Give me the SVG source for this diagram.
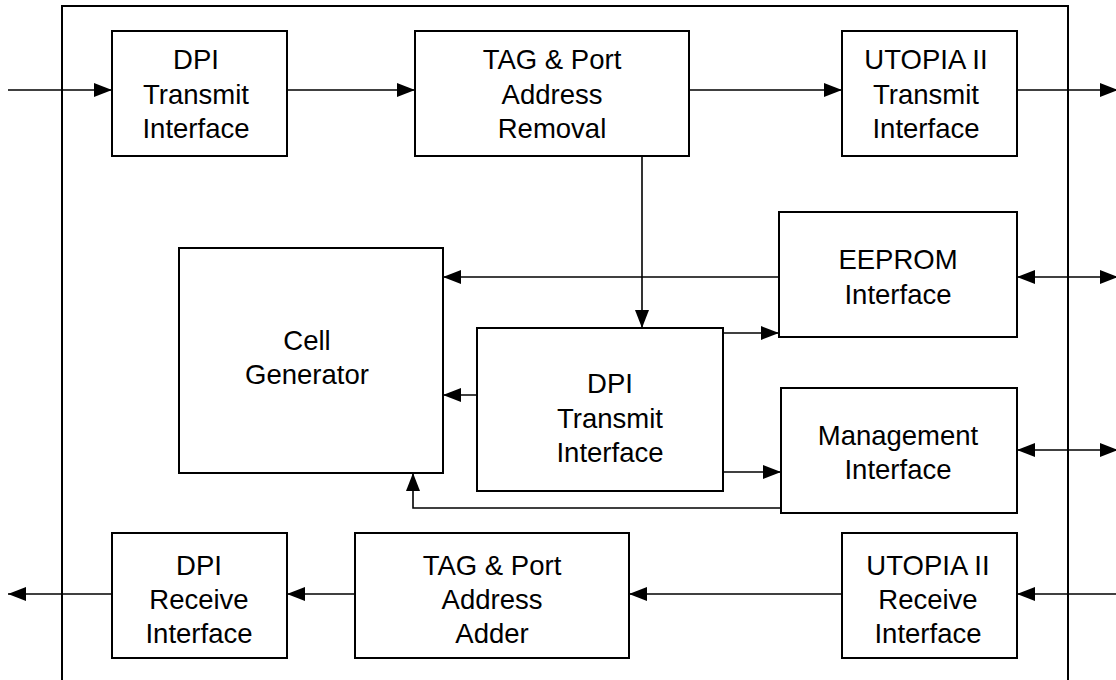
<svg xmlns="http://www.w3.org/2000/svg" width="1116" height="680" viewBox="0 0 1116 680">
<style>
.box{fill:#fff;stroke:#000;stroke-width:2}
.frame{fill:none;stroke:#000;stroke-width:2}
.c{fill:none;stroke:#000;stroke-width:1.6}
text{font-family:"Liberation Sans",Arial,sans-serif;font-size:27.5px;fill:#000;text-anchor:middle}
</style>
<defs>
<marker id="ah" markerUnits="userSpaceOnUse" markerWidth="18" markerHeight="14" refX="18" refY="7" orient="auto">
<path d="M0,0 L18,7 L0,14 z" fill="#000"/>
</marker>
<marker id="as" markerUnits="userSpaceOnUse" markerWidth="18" markerHeight="14" refX="0" refY="7" orient="auto">
<path d="M18,0 L0,7 L18,14 z" fill="#000"/>
</marker>
</defs>
<rect width="1116" height="680" fill="#fff"/>
<path class="frame" d="M62,682 V6 H1068 V682"/>
<g id="connectors">
<path class="c" d="M8,90 H112" marker-end="url(#ah)"/>
<path class="c" d="M287,90 H415" marker-end="url(#ah)"/>
<path class="c" d="M689,90 H842" marker-end="url(#ah)"/>
<path class="c" d="M1017,90 H1118" marker-end="url(#ah)"/>
<path class="c" d="M642,156 V328" marker-end="url(#ah)"/>
<path class="c" d="M779,277 H443" marker-end="url(#ah)"/>
<path class="c" d="M477,395 H443" marker-end="url(#ah)"/>
<path class="c" d="M723,333 H779" marker-end="url(#ah)"/>
<path class="c" d="M723,472 H781" marker-end="url(#ah)"/>
<path class="c" d="M781,508 H413 V473" marker-end="url(#ah)"/>
<path class="c" d="M1017,277 H1118" marker-start="url(#as)" marker-end="url(#ah)"/>
<path class="c" d="M1017,450 H1118" marker-start="url(#as)" marker-end="url(#ah)"/>
<path class="c" d="M1116,594 H1017" marker-end="url(#ah)"/>
<path class="c" d="M842,594 H629" marker-end="url(#ah)"/>
<path class="c" d="M355,594 H287" marker-end="url(#ah)"/>
<path class="c" d="M112,594 H8" marker-end="url(#ah)"/>
</g>
<g id="dpi-tx-top">
<rect class="box" x="112" y="31" width="175" height="125"/>
<text x="196" y="69">DPI</text><text x="196" y="104">Transmit</text><text x="196" y="138">Interface</text>
</g>
<g id="tag-removal">
<rect class="box" x="415" y="31" width="274" height="125"/>
<text x="552" y="69">TAG &amp; Port</text><text x="552" y="104">Address</text><text x="552" y="138">Removal</text>
</g>
<g id="utopia-tx">
<rect class="box" x="842" y="31" width="175" height="125"/>
<text x="926" y="69">UTOPIA II</text><text x="926" y="104">Transmit</text><text x="926" y="138">Interface</text>
</g>
<g id="cell-generator">
<rect class="box" x="179" y="248" width="264" height="225"/>
<text x="307" y="350">Cell</text><text x="307" y="384">Generator</text>
</g>
<g id="eeprom">
<rect class="box" x="779" y="212" width="238" height="125"/>
<text x="898" y="269">EEPROM</text><text x="898" y="304">Interface</text>
</g>
<g id="dpi-tx-center">
<rect class="box" x="477" y="328" width="246" height="163"/>
<text x="610" y="393">DPI</text><text x="610" y="428">Transmit</text><text x="610" y="462">Interface</text>
</g>
<g id="management">
<rect class="box" x="781" y="388" width="236" height="125"/>
<text x="898" y="445">Management</text><text x="898" y="479">Interface</text>
</g>
<g id="dpi-rx">
<rect class="box" x="112" y="533" width="175" height="125"/>
<text x="199" y="575">DPI</text><text x="199" y="609">Receive</text><text x="199" y="643">Interface</text>
</g>
<g id="tag-adder">
<rect class="box" x="355" y="533" width="274" height="125"/>
<text x="492" y="575">TAG &amp; Port</text><text x="492" y="609">Address</text><text x="492" y="643">Adder</text>
</g>
<g id="utopia-rx">
<rect class="box" x="842" y="533" width="175" height="125"/>
<text x="928" y="575">UTOPIA II</text><text x="928" y="609">Receive</text><text x="928" y="643">Interface</text>
</g>
</svg>
